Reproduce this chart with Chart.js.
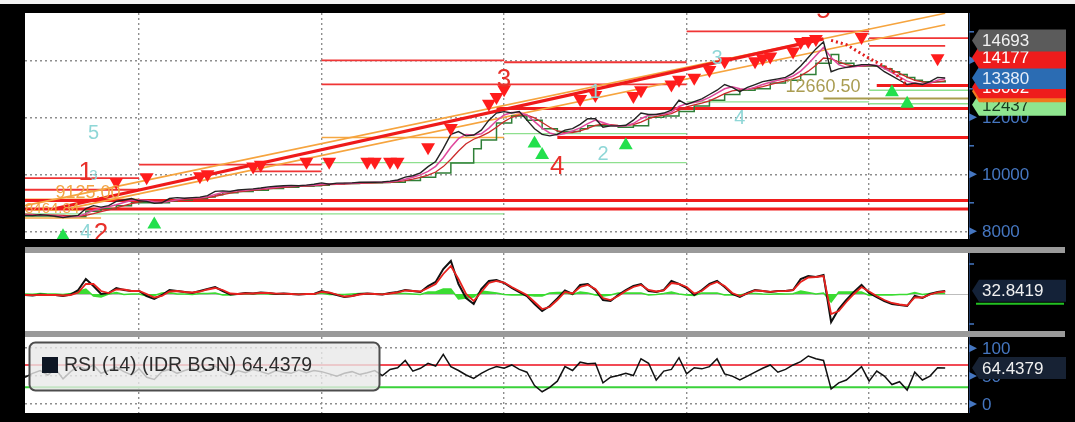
<!DOCTYPE html>
<html>
<head>
<meta charset="utf-8">
<script src="https://cdn.jsdelivr.net/npm/chart.js@4.4.1/dist/chart.umd.min.js"></script>
<style>
  html, body { margin: 0; padding: 0; background: #000; width: 1075px; height: 422px; overflow: hidden; }
  canvas { position: absolute; left: 0; }
  #top { top: 0; }
  #osc { top: 253px; }
  #rsi { top: 337px; }
  .sep { position: absolute; left: 25px; width: 1040px; height: 6px; background: #9a9a9a; }
  .strip { position: absolute; left: 0; top: 0; width: 1075px; height: 4px; background: #f2f2f2; }
</style>
</head>
<body>
<div class="strip"></div>
<canvas id="top" width="1075" height="247" style="width:1075px;height:247px"></canvas>
<div class="sep" style="top:247px"></div>
<canvas id="osc" width="1075" height="78" style="width:1075px;height:78px"></canvas>
<div class="sep" style="top:331px"></div>
<canvas id="rsi" width="1075" height="85" style="width:1075px;height:85px"></canvas>
<script>
// ---- data ----
const dates = [
  '2011-05-16','2011-06-01','2011-06-16','2011-07-01','2011-07-16','2011-08-01','2011-08-16','2011-09-01','2011-09-16','2011-10-01','2011-10-16','2011-11-01','2011-11-16','2011-12-01','2011-12-16',
  '2012-01-01','2012-01-16','2012-02-01','2012-02-16','2012-03-01','2012-03-16','2012-04-01','2012-04-16','2012-05-01','2012-05-16','2012-06-01','2012-06-16','2012-07-01','2012-07-16','2012-08-01','2012-08-16','2012-09-01','2012-09-16','2012-10-01','2012-10-16','2012-11-01','2012-11-16','2012-12-01','2012-12-16',
  '2013-01-01','2013-01-16','2013-02-01','2013-02-16','2013-03-01','2013-03-16','2013-04-01','2013-04-16','2013-05-01','2013-05-16','2013-06-01','2013-06-16','2013-07-01','2013-07-16','2013-08-01','2013-08-16','2013-09-01','2013-09-16','2013-10-01','2013-10-16','2013-11-01','2013-11-16','2013-12-01','2013-12-16',
  '2014-01-01','2014-01-16','2014-02-01','2014-02-16','2014-03-01','2014-03-16','2014-04-01','2014-04-16','2014-05-01','2014-05-16','2014-06-01','2014-06-16','2014-07-01','2014-07-16','2014-08-01','2014-08-16','2014-09-01','2014-09-16','2014-10-01','2014-10-16','2014-11-01','2014-11-16','2014-12-01','2014-12-16',
  '2015-01-01','2015-01-16','2015-02-01','2015-02-16','2015-03-01','2015-03-16','2015-04-01','2015-04-16','2015-05-01','2015-05-16','2015-06-01','2015-06-16','2015-07-01','2015-07-16','2015-08-01','2015-08-16','2015-09-01','2015-09-16','2015-10-01','2015-10-16','2015-11-01','2015-11-16','2015-12-01','2015-12-16',
  '2016-01-01','2016-01-16','2016-02-01','2016-02-16','2016-03-01','2016-03-16','2016-04-01','2016-04-16','2016-05-01','2016-05-16','2016-06-01','2016-06-16','2016-07-01','2016-07-16'
];
const yearStarts = ['2012-01-01','2013-01-01','2014-01-01','2015-01-01','2016-01-01'];

// USD/IDR close and overlays
const price = [
  8560,8550,8580,8560,8530,8480,8530,8560,8800,8900,
  8850,8900,9050,9100,9150,9070,9050,8980,9000,9150,
  9180,9160,9180,9200,9250,9400,9420,9400,9450,9470,
  9490,9520,9560,9580,9600,9610,9600,9620,9650,9700,
  9650,9690,9690,9700,9720,9720,9720,9730,9760,9800,
  9900,9950,10050,10270,10450,10900,11400,11500,11350,11380,
  11550,11900,12150,12200,12150,12200,11900,11600,11400,11350,
  11400,11550,11600,11750,11950,11950,11650,11700,11700,11720,
  11900,12150,12100,12100,12150,12250,12600,12450,12550,12650,
  12800,12950,13150,13050,12900,13050,13150,13250,13300,13350,
  13400,13550,13800,14100,14400,14650,13600,13700,13750,13800,
  13850,13850,13800,13600,13450,13300,13150,13200,13150,13250,
  13400,13380
];
const maFast = [
  8570,8560,8560,8565,8550,8520,8510,8530,8620,8740,
  8820,8860,8930,9010,9080,9100,9080,9040,9010,9050,
  9110,9150,9170,9180,9210,9290,9360,9400,9420,9440,
  9470,9490,9520,9550,9570,9590,9600,9610,9620,9650,
  9670,9670,9680,9690,9700,9710,9720,9720,9740,9770,
  9830,9900,9980,10100,10280,10580,10950,11250,11400,11380,
  11420,11620,11880,12080,12170,12170,12080,11850,11620,11450,
  11380,11430,11520,11630,11780,11900,11820,11720,11690,11700,
  11780,11950,12070,12100,12120,12180,12380,12480,12520,12580,
  12700,12850,13000,13070,13000,12980,13060,13150,13230,13300,
  13350,13450,13620,13880,14170,14450,14100,13850,13750,13770,
  13810,13840,13830,13720,13570,13420,13270,13200,13170,13200,
  13300,13350
];
const maSlow = [
  8600,8590,8580,8575,8570,8555,8540,8535,8560,8620,
  8690,8750,8820,8900,8970,9030,9060,9070,9060,9060,
  9080,9110,9140,9160,9180,9230,9290,9340,9380,9410,
  9440,9460,9490,9520,9540,9560,9580,9590,9600,9620,
  9640,9650,9660,9670,9680,9690,9700,9710,9720,9740,
  9780,9830,9890,9970,10080,10270,10530,10820,11070,11230,
  11340,11470,11650,11850,12000,12080,12080,11980,11820,11650,
  11520,11460,11460,11520,11610,11720,11760,11740,11720,11710,
  11740,11830,11950,12030,12080,12130,12250,12370,12440,12500,
  12580,12700,12830,12930,12960,12980,13020,13080,13150,13220,
  13280,13350,13460,13620,13830,14080,14050,13950,13850,13800,
  13800,13810,13810,13760,13660,13540,13410,13300,13240,13210,
  13240,13280
];
const baseLine = [
  8540,8540,8540,8540,8520,8520,8520,8520,8700,8700,
  8800,8800,8900,8900,9000,9000,9000,9000,9000,9060,
  9100,9100,9150,9150,9200,9280,9350,9350,9400,9400,
  9440,9440,9500,9500,9550,9550,9580,9580,9600,9620,
  9660,9660,9680,9680,9700,9700,9700,9710,9720,9720,
  9780,9780,9900,9900,10050,10050,10400,10400,10400,10900,
  11200,11200,11800,11800,12050,12050,11900,11900,11600,11600,
  11500,11500,11500,11600,11700,11700,11700,11700,11650,11650,
  11700,11700,12000,12000,12050,12050,12200,12200,12400,12400,
  12600,12600,12800,12800,12950,12950,13000,13000,13200,13200,
  13300,13300,13500,13500,13900,13900,14200,13900,13900,13800,
  13800,13800,13800,13700,13600,13500,13400,13300,13250,13250,
  13250,13300
];
const sarDots = [['2015-10-16',14700],['2015-11-16',14550],['2016-01-01',14070],['2016-02-16',13650],['2016-03-16',13120]];

const sellSignals = [
  ['2011-11-16',9729],['2012-01-16',9898],['2012-05-01',9932],['2012-05-16',10000],['2012-08-16',10271],
  ['2012-09-01',10339],['2012-12-01',10441],['2013-01-16',10441],['2013-04-01',10441],['2013-04-16',10441],
  ['2013-05-16',10441],['2013-06-01',10441],['2013-08-01',10949],['2013-09-16',11627],['2013-12-01',12475],
  ['2013-12-16',12712],['2014-01-01',12983],['2014-06-01',12644],['2014-07-01',12780],['2014-09-16',12746],
  ['2014-10-01',12949],['2014-12-01',13153],['2014-12-16',13322],['2015-01-16',13390],['2015-02-16',13661],
  ['2015-03-16',13966],['2015-05-16',13966],['2015-06-01',14068],['2015-06-16',14136],['2015-08-01',14305],
  ['2015-08-16',14644],['2015-09-01',14678],['2015-09-16',14746],['2015-12-16',14814],['2016-05-16',14068]
];
const buySignals = [
  ['2011-08-01',7830],['2012-02-01',8237],['2014-03-01',11085],['2014-03-16',10678],
  ['2014-09-01',11017],['2016-02-16',12882],['2016-03-16',12475]
];

// horizontal levels: [from, to, value]
const redMajor = [
  ['2011-05-16','2016-07-16',9085],
  ['2011-05-16','2016-07-16',8780],
  ['2013-12-16','2016-07-16',12305],
  ['2014-04-16','2016-07-16',11288],
  ['2016-01-16','2016-07-16',13119]
];
const redMinor = [
  ['2015-01-01','2016-01-01',15017],
  ['2016-01-01','2016-07-16',14780],
  ['2016-01-01','2016-06-01',14509],
  ['2013-01-01','2014-01-01',14000],
  ['2014-01-01','2015-01-01',13932],
  ['2013-01-01','2015-01-01',13153],
  ['2012-01-01','2013-01-01',10339],
  ['2012-08-16','2013-01-01',10102],
  ['2011-05-16','2012-01-01',9864],
  ['2011-05-16','2012-01-01',9458]
];
const greenLevels = [
  ['2011-05-16','2014-01-01',8610],
  ['2013-01-01','2015-01-01',10407],
  ['2014-01-01','2015-01-01',11424],
  ['2015-01-01','2016-01-01',12543],
  ['2016-01-01','2016-07-16',12949],
  ['2016-01-01','2016-07-16',12475]
];
const orangeLevels = [
  ['2011-05-16','2012-01-01',9125],
  ['2013-01-01','2014-01-01',11288],
  ['2011-05-16','2011-10-16',8465]
];
const oliveLevels = [['2015-10-01','2016-07-16',12660.5]];

// trend lines: [from, value, to, value]
const redTrends = [['2011-07-16',8800,'2015-10-01',14750]];
const orangeTrends = [['2011-05-16',8900,'2016-06-01',15650],['2011-08-16',8814,'2016-06-01',15250]];

// chart notes: [text, date, value]
const waveRed = [['1','2011-09-16',10068],['2','2011-10-16',7900],['3','2014-01-01',13322],['4','2014-04-16',10271],['5','2015-10-01',15740]];
const waveCyan = [['5','2011-10-01',11424],['3','2011-10-01',9932],['4','2011-09-16',7966],['1','2014-07-01',12882],['2','2014-07-16',10678],['3','2015-03-01',14068],['4','2015-04-16',11966]];
const levelNotes = [['9125.00','2011-07-16',9330],['8464.84','2011-05-16',8780],['12660.50','2015-07-16',13051]];

const priceTicks = [8000, 10000, 12000, 14000];
const priceMinor = [9000, 11000, 13000, 15000];
const priceTags = [12437, 12915, 13051, 13380, 14100, 14693];
const priceTagText = ['12437', '12661', '13002', '13380', '14177', '14693'];

// oscillator panel
const osc = [
  -10,-15,-5,-10,-10,-20,-5,40,150,80,
  0,10,60,40,30,30,-20,-50,-10,40,
  30,20,10,30,50,70,30,-5,0,10,
  5,15,10,0,5,0,-5,0,0,30,
  10,-10,-30,-20,0,5,0,-5,10,20,
  40,30,20,80,120,250,330,100,-40,-100,
  50,130,140,110,60,20,-20,-100,-170,-120,
  -45,35,0,90,100,40,-60,-70,-10,40,
  80,100,30,20,40,130,100,60,-10,40,
  100,130,70,0,-30,10,40,30,20,30,
  30,40,150,180,170,190,-280,-150,-60,20,
  90,10,-30,-70,-100,-110,-120,-20,-40,0,
  20,30
];
const oscSignal = [
  -10,-12,-10,-10,-10,-15,-10,15,100,100,
  30,10,45,45,30,30,0,-35,-20,25,
  30,20,15,25,45,60,40,5,0,5,
  5,10,10,3,3,0,-3,0,0,20,
  15,-5,-25,-20,-5,3,0,-3,5,15,
  35,30,25,60,100,200,280,150,0,-70,
  20,110,130,115,70,30,-10,-80,-150,-130,
  -60,20,5,70,90,50,-40,-60,-20,30,
  70,90,40,25,35,110,100,70,5,30,
  90,120,80,10,-20,5,35,30,22,28,
  30,38,120,165,170,180,-200,-170,-80,0,
  70,25,-20,-60,-90,-105,-115,-35,-35,-5,
  15,25
];
const oscHist = [
  0,-3,5,0,0,-5,5,25,50,-20,
  -30,0,15,-5,0,0,-20,-15,10,15,
  0,0,-5,5,5,10,-10,-10,0,5,
  0,5,0,-3,2,0,-2,0,0,10,
  -5,-5,-5,0,5,2,0,-2,5,5,
  5,0,-5,20,20,50,50,-50,-40,-30,
  30,20,10,-5,-10,-10,-10,-20,-20,10,
  15,15,-5,20,10,-10,-20,-10,10,10,
  10,10,-10,-5,5,20,0,-10,-15,10,
  10,10,-10,-10,-10,5,5,0,-2,2,
  0,2,30,15,0,10,-80,20,20,20,
  20,-15,-10,-10,-10,-5,-5,15,-5,5,
  5,5
];
const oscLast = 32.8419;
const oscMinor = [-300, 300];

// RSI (14)
const rsi = [
  48,55,60,52,63,45,58,68,62,70,
  55,60,66,58,52,63,48,44,58,62,
  55,60,64,57,62,68,58,52,60,56,
  62,58,54,60,57,55,61,56,60,58,
  54,50,55,58,53,56,60,51,62,65,
  78,59,64,73,68,89,67,60,52,46,
  55,62,67,64,70,62,57,33,22,30,
  41,67,60,75,72,73,38,48,51,55,
  51,81,73,43,59,62,83,54,65,63,
  67,81,54,50,43,50,57,64,70,57,
  62,70,76,86,81,78,27,38,43,55,
  67,41,59,50,35,40,25,57,43,50,
  65,64.4379
];
const rsiBands = [['2011-05-16','2016-07-16',70],['2011-05-16','2016-07-16',30]];
const rsiTicks = [0, 50, 100];
const rsiLast = 64.4379;

// ---- styles ----
const FONT = '"Liberation Sans", Arial, sans-serif';
const AXIS_BLUE = '#4576c0';
const GRID = '#8e8e8e';
const tagColours = [
  ['#8fe58f', '#173a1f'], ['#f07a1e', '#ffffff'], ['#ee1c1c', '#ffffff'],
  ['#2b6cb3', '#e8eef8'], ['#ee1c1c', '#ffffff'], ['#5b5b5b', '#f2f2f2']
];

const white = {
  id: 'white',
  beforeDraw(chart) {
    const a = chart.chartArea;
    chart.ctx.save();
    chart.ctx.fillStyle = '#ffffff';
    chart.ctx.fillRect(a.left, a.top, a.width, a.height);
    chart.ctx.restore();
  }
};

const notes = {
  id: 'notes',
  afterDatasetsDraw(chart, args, opts) {
    const {ctx, chartArea: a, scales: {x, y}} = chart;
    if (!opts.items) return;
    ctx.save();
    ctx.beginPath();
    ctx.rect(a.left, a.top, a.width, a.height);
    ctx.clip();
    opts.items.forEach(it => {
      ctx.font = it.font;
      ctx.fillStyle = it.color;
      ctx.textAlign = it.align;
      ctx.textBaseline = 'middle';
      ctx.fillText(it.text, x.getPixelForValue(dates.indexOf(it.date)), y.getPixelForValue(it.value));
    });
    ctx.restore();
  }
};

function tickMark(ctx, y, big) {
  ctx.fillStyle = AXIS_BLUE;
  ctx.beginPath();
  if (big) {
    ctx.moveTo(969, y - 4); ctx.lineTo(977, y); ctx.lineTo(969, y + 4);
  } else {
    ctx.rect(969, y - 0.75, 5, 1.5);
  }
  ctx.fill();
}
function axisText(ctx, y, text) {
  ctx.fillStyle = AXIS_BLUE;
  ctx.font = '17px ' + FONT;
  ctx.textAlign = 'left';
  ctx.textBaseline = 'middle';
  ctx.fillText(text, 982, y + 1);
}
function tag(ctx, y, text, bg, fg) {
  const h = 22;
  ctx.fillStyle = bg;
  ctx.beginPath();
  ctx.moveTo(972, y);
  ctx.lineTo(979, y - h / 2);
  ctx.lineTo(1066, y - h / 2);
  ctx.lineTo(1066, y + h / 2);
  ctx.lineTo(979, y + h / 2);
  ctx.closePath();
  ctx.fill();
  ctx.fillStyle = fg;
  ctx.font = '17px ' + FONT;
  ctx.textAlign = 'left';
  ctx.textBaseline = 'middle';
  ctx.fillText(text, 982, y + 1);
}
function axisLine(chart) {
  const ctx = chart.ctx, a = chart.chartArea;
  ctx.strokeStyle = '#213a63';
  ctx.lineWidth = 1;
  ctx.beginPath();
  ctx.moveTo(969.5, a.top);
  ctx.lineTo(969.5, a.bottom);
  ctx.stroke();
}

function xAxis() {
  return {
    type: 'category',
    offset: false,
    ticks: {display: false},
    grid: {color: GRID, lineWidth: 1.4, drawTicks: false},
    border: {display: false, dash: [2, 3]},
    afterBuildTicks: s => { s.ticks = yearStarts.map(d => ({value: dates.indexOf(d)})); },
    afterFit: s => { s.height = 0; }
  };
}
function yAxis(min, max, ticks, dash) {
  return {
    position: 'right', min, max,
    ticks: {display: false},
    grid: {color: GRID, lineWidth: 1.4, drawTicks: false},
    border: {display: false, dash},
    afterBuildTicks: s => { s.ticks = ticks.map(v => ({value: v})); },
    afterFit: s => { s.width = 0; }
  };
}
const base = (padding) => ({
  responsive: false,
  animation: false,
  events: [],
  layout: {padding},
  elements: {point: {radius: 0}, line: {tension: 0, fill: false}},
  plugins: {legend: {display: false}, tooltip: {enabled: false}}
});

function flat(list, colour, width, order) {
  return list.map(([a, b, v]) => ({data: [{x: a, y: v}, {x: b, y: v}], borderColor: colour, borderWidth: width, order}));
}
function slope(list, colour, width, order) {
  return list.map(([a, v1, b, v2]) => ({data: [{x: a, y: v1}, {x: b, y: v2}], borderColor: colour, borderWidth: width, order}));
}
const pts = list => list.map(([d, v]) => ({x: d, y: v}));

// ---- price panel ----
const topOpts = base({left: 25, right: 107, top: 13, bottom: 0});
topOpts.scales = {x: xAxis(), y: yAxis(7730, 15660, priceTicks, [2, 3])};
topOpts.plugins.notes = {
  items: [
    ...levelNotes.map(([t, d, v], i) => ({text: t, date: d, value: v, align: 'left',
      color: i === 2 ? '#aa9d52' : '#f2a445', font: (i === 1 ? '15px ' : '18px ') + FONT})),
    ...waveCyan.map(([t, d, v], i) => ({text: t, date: d, value: v, align: 'center', color: '#8fd7d7', font: (i === 1 ? '15px ' : '20px ') + FONT})),
    ...waveRed.map(([t, d, v]) => ({text: t, date: d, value: v, align: 'center', color: '#e8302a', font: '26px ' + FONT}))
  ]
};

new Chart(document.getElementById('top'), {
  type: 'line',
  data: {
    labels: dates,
    datasets: [
      {data: pts(sellSignals), showLine: false, pointStyle: 'triangle', rotation: 180, pointRadius: 8, pointBackgroundColor: '#ff1c1c', pointBorderWidth: 0, order: 0},
      {data: pts(buySignals), showLine: false, pointStyle: 'triangle', rotation: 0, pointRadius: 8, pointBackgroundColor: '#22e04c', pointBorderWidth: 0, order: 0},
      {data: pts(sarDots), borderColor: '#e21e1e', borderWidth: 3, borderDash: [2, 3], order: 1},
      {data: price, borderColor: '#232323', borderWidth: 1.4, order: 2},
      {data: maFast, borderColor: '#e0489c', borderWidth: 1.5, order: 3},
      {data: maSlow, borderColor: '#cc2a2a', borderWidth: 1.3, order: 3},
      {data: baseLine, borderColor: '#2f7f37', borderWidth: 1.5, stepped: true, order: 4},
      ...slope(redTrends, '#ee1a1a', 3.2, 5),
      ...slope(orangeTrends, '#f6a43e', 1.6, 5),
      ...flat(redMajor, '#f01c1c', 3, 6),
      ...flat(redMinor, '#f03535', 1.8, 6),
      ...flat(greenLevels, '#8ee08e', 1.3, 6),
      ...flat(orangeLevels, '#f5a742', 1.5, 6),
      ...flat(oliveLevels, '#a89b4b', 2, 6)
    ]
  },
  options: topOpts,
  plugins: [white, notes, {
    id: 'priceAxis',
    afterDraw(chart) {
      const {ctx, scales: {y}} = chart;
      ctx.save();
      axisLine(chart);
      priceMinor.forEach(v => tickMark(ctx, y.getPixelForValue(v), false));
      priceTicks.forEach(v => { tickMark(ctx, y.getPixelForValue(v), true); axisText(ctx, y.getPixelForValue(v), String(v)); });
      priceTags.forEach((v, i) => tag(ctx, y.getPixelForValue(v), priceTagText[i], tagColours[i][0], tagColours[i][1]));
      ctx.restore();
    }
  }]
});

// ---- oscillator panel ----
const oscOpts = base({left: 25, right: 107, top: 0, bottom: 0});
oscOpts.scales = {x: xAxis(), y: yAxis(-370, 410, [0], [])};
oscOpts.scales.y.grid.color = '#bdbdbd';
oscOpts.scales.y.grid.lineWidth = 1;

new Chart(document.getElementById('osc'), {
  type: 'line',
  data: {
    labels: dates,
    datasets: [
      {data: oscSignal, borderColor: '#e8221e', borderWidth: 1.8, order: 0},
      {data: osc, borderColor: '#111111', borderWidth: 2, order: 1},
      {data: oscHist, borderColor: '#3bdc32', backgroundColor: '#3bdc32', borderWidth: 1.5, fill: 'origin', order: 2}
    ]
  },
  options: oscOpts,
  plugins: [white, {
    id: 'oscAxis',
    afterDraw(chart) {
      const {ctx, scales: {y}} = chart;
      ctx.save();
      axisLine(chart);
      oscMinor.forEach(v => tickMark(ctx, y.getPixelForValue(v), false));
      const py = y.getPixelForValue(oscLast);
      tag(ctx, py, oscLast.toFixed(4), '#142238', '#f0f0f0');
      ctx.strokeStyle = '#22c022';
      ctx.lineWidth = 2;
      ctx.beginPath();
      ctx.moveTo(976, py + 13);
      ctx.lineTo(1064, py + 13);
      ctx.stroke();
      ctx.restore();
    }
  }]
});

// ---- RSI panel ----
const rsiOpts = base({left: 25, right: 107, top: 0, bottom: 9});
rsiOpts.scales = {x: xAxis(), y: yAxis(-16, 120, rsiTicks, [2, 3])};

new Chart(document.getElementById('rsi'), {
  type: 'line',
  data: {
    labels: dates,
    datasets: [
      {data: rsi, borderColor: '#111111', borderWidth: 1.5, order: 0},
      ...flat(rsiBands.slice(0, 1), '#f24a55', 2, 1),
      ...flat(rsiBands.slice(1), '#3ad23a', 2, 1)
    ]
  },
  options: rsiOpts,
  plugins: [white, {
    id: 'rsiLegend',
    afterDatasetsDraw(chart) {
      const ctx = chart.ctx;
      ctx.save();
      ctx.beginPath();
      ctx.roundRect(29.5, 5.5, 350, 48, 6);
      ctx.fillStyle = 'rgba(233,233,233,0.8)';
      ctx.fill();
      ctx.strokeStyle = '#4d4d4d';
      ctx.lineWidth = 2;
      ctx.stroke();
      ctx.fillStyle = '#0e1624';
      ctx.fillRect(42, 20, 16, 16);
      ctx.fillStyle = '#2c2c2c';
      ctx.font = '19.5px ' + FONT;
      ctx.textAlign = 'left';
      ctx.textBaseline = 'middle';
      ctx.fillText('RSI (14) (IDR BGN) ' + rsiLast.toFixed(4), 64, 29);
      ctx.restore();
    },
    afterDraw(chart) {
      const {ctx, scales: {y}} = chart;
      ctx.save();
      axisLine(chart);
      rsiTicks.forEach(v => { tickMark(ctx, y.getPixelForValue(v), true); axisText(ctx, y.getPixelForValue(v), String(v)); });
      tag(ctx, y.getPixelForValue(rsiLast), rsiLast.toFixed(4), '#172234', '#f0f0f0');
      ctx.restore();
    }
  }]
});
</script>
</body>
</html>
